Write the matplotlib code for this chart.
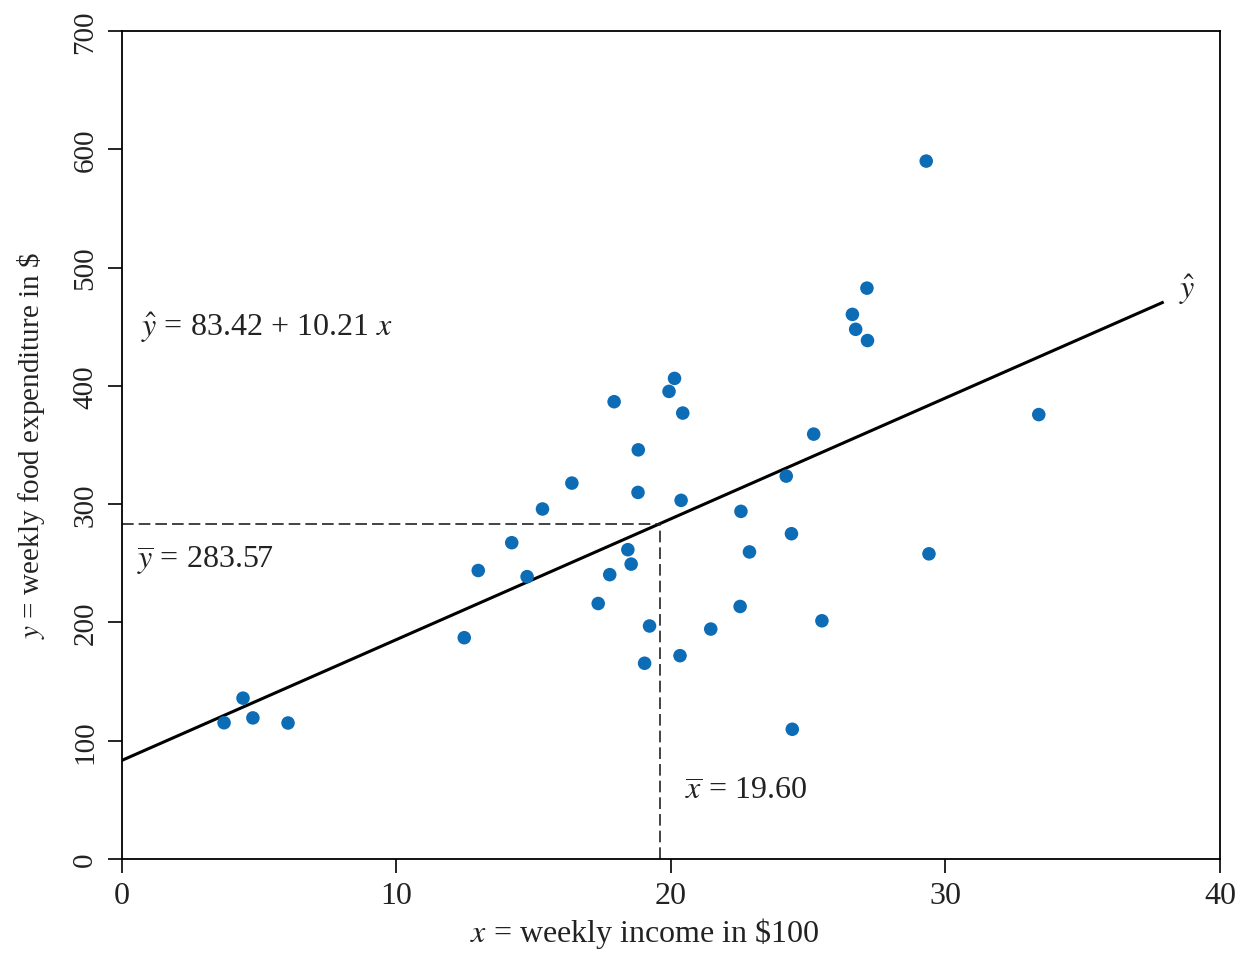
import matplotlib
matplotlib.use("Agg")
import numpy as np
import matplotlib.pyplot as plt

# weekly income ($100) and weekly food expenditure ($)
income = [3.72, 4.41, 4.77, 6.05, 12.47, 12.98, 14.20, 14.76, 15.32, 16.39,
          17.35, 17.77, 17.93, 18.43, 18.55, 18.80, 18.81, 19.04, 19.22, 19.93,
          20.13, 20.33, 20.37, 20.43, 21.45, 22.52, 22.55, 22.86, 24.20, 24.39,
          24.42, 25.20, 25.50, 26.61, 26.73, 27.14, 27.16, 29.30, 29.40, 33.40]
food = [115.2, 136.0, 119.3, 115.0, 187.1, 243.9, 267.4, 238.7, 295.9, 317.8,
        216.0, 240.4, 386.6, 261.5, 249.3, 309.9, 345.9, 165.5, 197.0, 395.3,
        406.3, 171.9, 303.2, 377.0, 194.4, 213.5, 293.9, 259.6, 323.7, 275.0,
        109.7, 359.2, 201.4, 460.4, 447.8, 482.6, 438.3, 590.0, 258.0, 375.7]

b1, b2 = 83.42, 10.21
x_bar, y_bar = 19.60, 283.57
x_line_end = 37.9

plt.rcParams.update({
    "font.family": "Liberation Serif",
    "mathtext.fontset": "stix",
    "font.size": 22,
})

fig = plt.figure(figsize=(12.47, 9.54), dpi=100)
ax = fig.add_axes([0.0978, 0.0985, 0.8805, 0.868])

ax.scatter(income, food, s=95, color="#0d6cb6", edgecolors="none", zorder=3)

xs = np.array([0, x_line_end])
ax.plot(xs, b1 + b2 * xs, color="black", lw=2.2, zorder=2)

dash = (0, (7, 3))
ax.plot([0, x_bar], [y_bar, y_bar], color="#222222", lw=1.2, ls=dash)
ax.plot([x_bar, x_bar], [0, y_bar], color="#222222", lw=1.2, ls=dash)

txt_kw = dict(fontsize=23, va="center", color="#222222")
ax.text(0.7, 450, r"$\hat{y}$ = 83.42 + 10.21 $x$", **txt_kw)
ax.text(0.55, 252, r"$\overline{y}$ = 283.57", **txt_kw)
ax.text(20.5, 57, r"$\overline{x}$ = 19.60", **txt_kw)
ax.text(38.5, 482, r"$\hat{y}$", **txt_kw)

ax.set_xlim(0, 40)
ax.set_ylim(0, 700)
ax.set_xticks([0, 10, 20, 30, 40])
ax.set_yticks([0, 100, 200, 300, 400, 500, 600, 700])
ax.tick_params(direction="out", length=10, width=1.2, top=False, right=False,
               labelcolor="#222222")
ax.tick_params(axis="x", labelsize=23, pad=6)
ax.tick_params(axis="y", labelsize=21, pad=7)
for lbl in ax.get_yticklabels():
    lbl.set_rotation(90)
    lbl.set_va("center")
for sp in ax.spines.values():
    sp.set_linewidth(1.3)

ax.set_xlabel(r"$x$ = weekly income in \$100", fontsize=23, color="#222222")
ax.xaxis.set_label_coords(0.476, -0.067)
ax.set_ylabel(r"$y$ = weekly food expenditure in \$", fontsize=21, labelpad=18,
              color="#222222")

fig.savefig("out.png", dpi=100)
